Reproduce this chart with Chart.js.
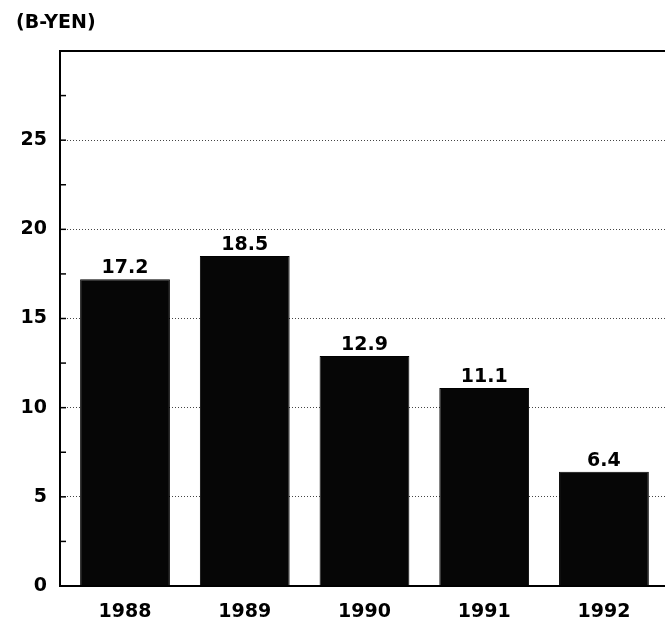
<!DOCTYPE html>
<html>
<head>
<meta charset="utf-8">
<script src="https://cdn.jsdelivr.net/npm/chart.js@4"></script>
<style>
  html, body { margin: 0; padding: 0; background: #fff; overflow: hidden; }
  #wrap { width: 665px; height: 625px; position: relative; }
</style>
</head>
<body>
<div id="wrap"><canvas id="chart"></canvas></div>
<script>
// data
const years = ['1988', '1989', '1990', '1991', '1992'];
const values = [17.2, 18.5, 12.9, 11.1, 6.4];
const unitLabel = '(B-YEN)';

const FONT = "'DejaVu Sans', sans-serif";

// title, top frame line, inner minor ticks, value labels
const extras = {
    id: 'extras',
    afterDraw(chart) {
        const ctx = chart.ctx;
        const area = chart.chartArea;
        const yScale = chart.scales.y;
        ctx.save();

        // top frame line
        ctx.strokeStyle = '#000';
        ctx.lineWidth = 2;
        ctx.beginPath();
        ctx.moveTo(area.left - 1, area.top);
        ctx.lineTo(area.right, area.top);
        ctx.stroke();

        // small tick marks on the inside of the y axis
        ctx.lineWidth = 1.5;
        yScale.ticks.forEach(t => {
            if (t.value <= 0 || t.value >= 30) return;
            const py = yScale.getPixelForValue(t.value);
            ctx.beginPath();
            ctx.moveTo(area.left + 1, py);
            ctx.lineTo(area.left + 6, py);
            ctx.stroke();
        });

        // unit label
        ctx.fillStyle = '#000';
        ctx.font = "bold 19px " + FONT;
        ctx.textAlign = 'left';
        ctx.textBaseline = 'alphabetic';
        ctx.fillText(unitLabel, 16, 28);

        // value labels above bars
        ctx.textAlign = 'center';
        const meta = chart.getDatasetMeta(0);
        meta.data.forEach((bar, i) => {
            ctx.fillText(values[i].toFixed(1), bar.x, bar.y - 6);
        });
        ctx.restore();
    }
};

new Chart(document.getElementById('chart'), {
    type: 'bar',
    data: {
        datasets: [{
            data: values.map((v, i) => ({ x: i, y: v })),
            backgroundColor: '#060606',
            borderColor: '#000',
            borderWidth: 1,
            barPercentage: 0.75,
            categoryPercentage: 1
        }]
    },
    options: {
        responsive: true,
        maintainAspectRatio: false,
        animation: false,
        layout: { padding: { left: 17, top: 51, right: 0, bottom: 0 } },
        plugins: {
            legend: { display: false },
            tooltip: { enabled: false }
        },
        scales: {
            x: {
                type: 'linear',
                offset: false,
                min: -0.543,
                max: 4.51,
                grid: { display: false, drawTicks: false },
                border: { display: true, color: '#000', width: 2 },
                ticks: {
                    stepSize: 1,
                    includeBounds: false,
                    padding: 15,
                    color: '#000',
                    font: { family: FONT, size: 19, weight: 'bold' },
                    callback: v => Number.isInteger(v) ? years[v] : ''
                },
                afterFit: s => { s.height = 39; }
            },
            y: {
                min: 0,
                max: 30,
                grid: {
                    drawTicks: false,
                    color: c => (c.tick.value % 5 === 0 && c.tick.value > 0 && c.tick.value < 30) ? '#444' : 'transparent',
                    lineWidth: 1
                },
                border: { display: true, color: '#000', width: 2, dash: [1, 2] },
                ticks: {
                    stepSize: 2.5,
                    padding: 13,
                    color: '#000',
                    font: { family: FONT, size: 19, weight: 'bold' },
                    callback: v => (v % 5 === 0 && v < 30) ? String(v) : ''
                },
                afterFit: s => { s.width = 43; }
            }
        }
    },
    plugins: [extras]
});
</script>
</body>
</html>
